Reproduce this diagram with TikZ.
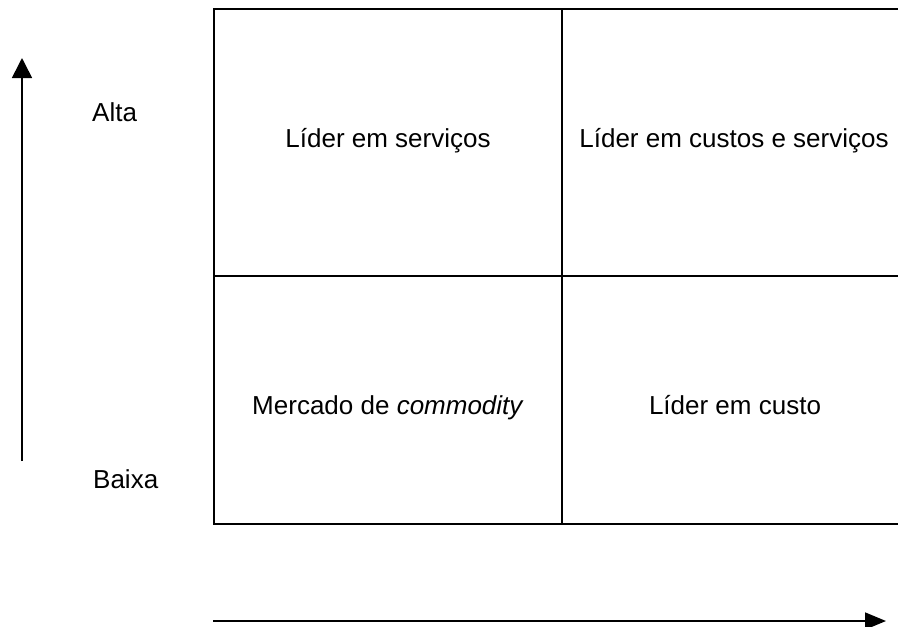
\documentclass[tikz,border=0pt]{standalone}
\usepackage{fontspec}
\setmainfont{Liberation Sans}
\usetikzlibrary{arrows.meta}
\begin{document}
\begin{tikzpicture}[x=1pt,y=-1pt,
  gridline/.style={line width=2pt,line cap=rect},
  axis/.style={line width=1.6pt},
  lbl/.style={font=\fontsize{26}{31}\selectfont,inner sep=0pt,anchor=base},
  sidelbl/.style={font=\fontsize{26}{31}\selectfont,inner sep=0pt,anchor=base west}]
\useasboundingbox (0,0) rectangle (898,627);
% grid corners
\coordinate (tl) at (214,9);
\coordinate (tm) at (562,9);
\coordinate (tr) at (900,9);
\coordinate (ml) at (214,276);
\coordinate (mr) at (900,276);
\coordinate (bl) at (214,524);
\coordinate (bm) at (562,524);
\coordinate (br) at (900,524);
\begin{scope}
\clip (0,0) rectangle (898,627);
\draw[gridline] (tr) -- (tl) -- (bl) -- (br);
\draw[gridline] (tm) -- (bm);
\draw[gridline] (ml) -- (mr);
\end{scope}
% cell labels
\node[lbl] (c11) at (388,147) {Líder em serviços};
\node[lbl] (c12) at (734,147) {Líder em custos e serviços};
\node[lbl] (c21) at (388,414) {Mercado de \textit{commodity}};
\node[lbl] (c22) at (735,414) {Líder em custo};
% side labels
\node[sidelbl] (alta) at (92,121) {Alta};
\node[sidelbl] (baixa) at (93,488) {Baixa};
% axes
\coordinate (v0) at (22,461);
\coordinate (v1) at (22,58);
\coordinate (h0) at (213,621);
\coordinate (h1) at (886,621);
\draw[axis,-{Triangle[length=20pt,width=20pt]}] (v0) -- (v1);
\draw[axis,-{Triangle[length=21pt,width=17pt]}] (h0) -- (h1);
\end{tikzpicture}
\end{document}
